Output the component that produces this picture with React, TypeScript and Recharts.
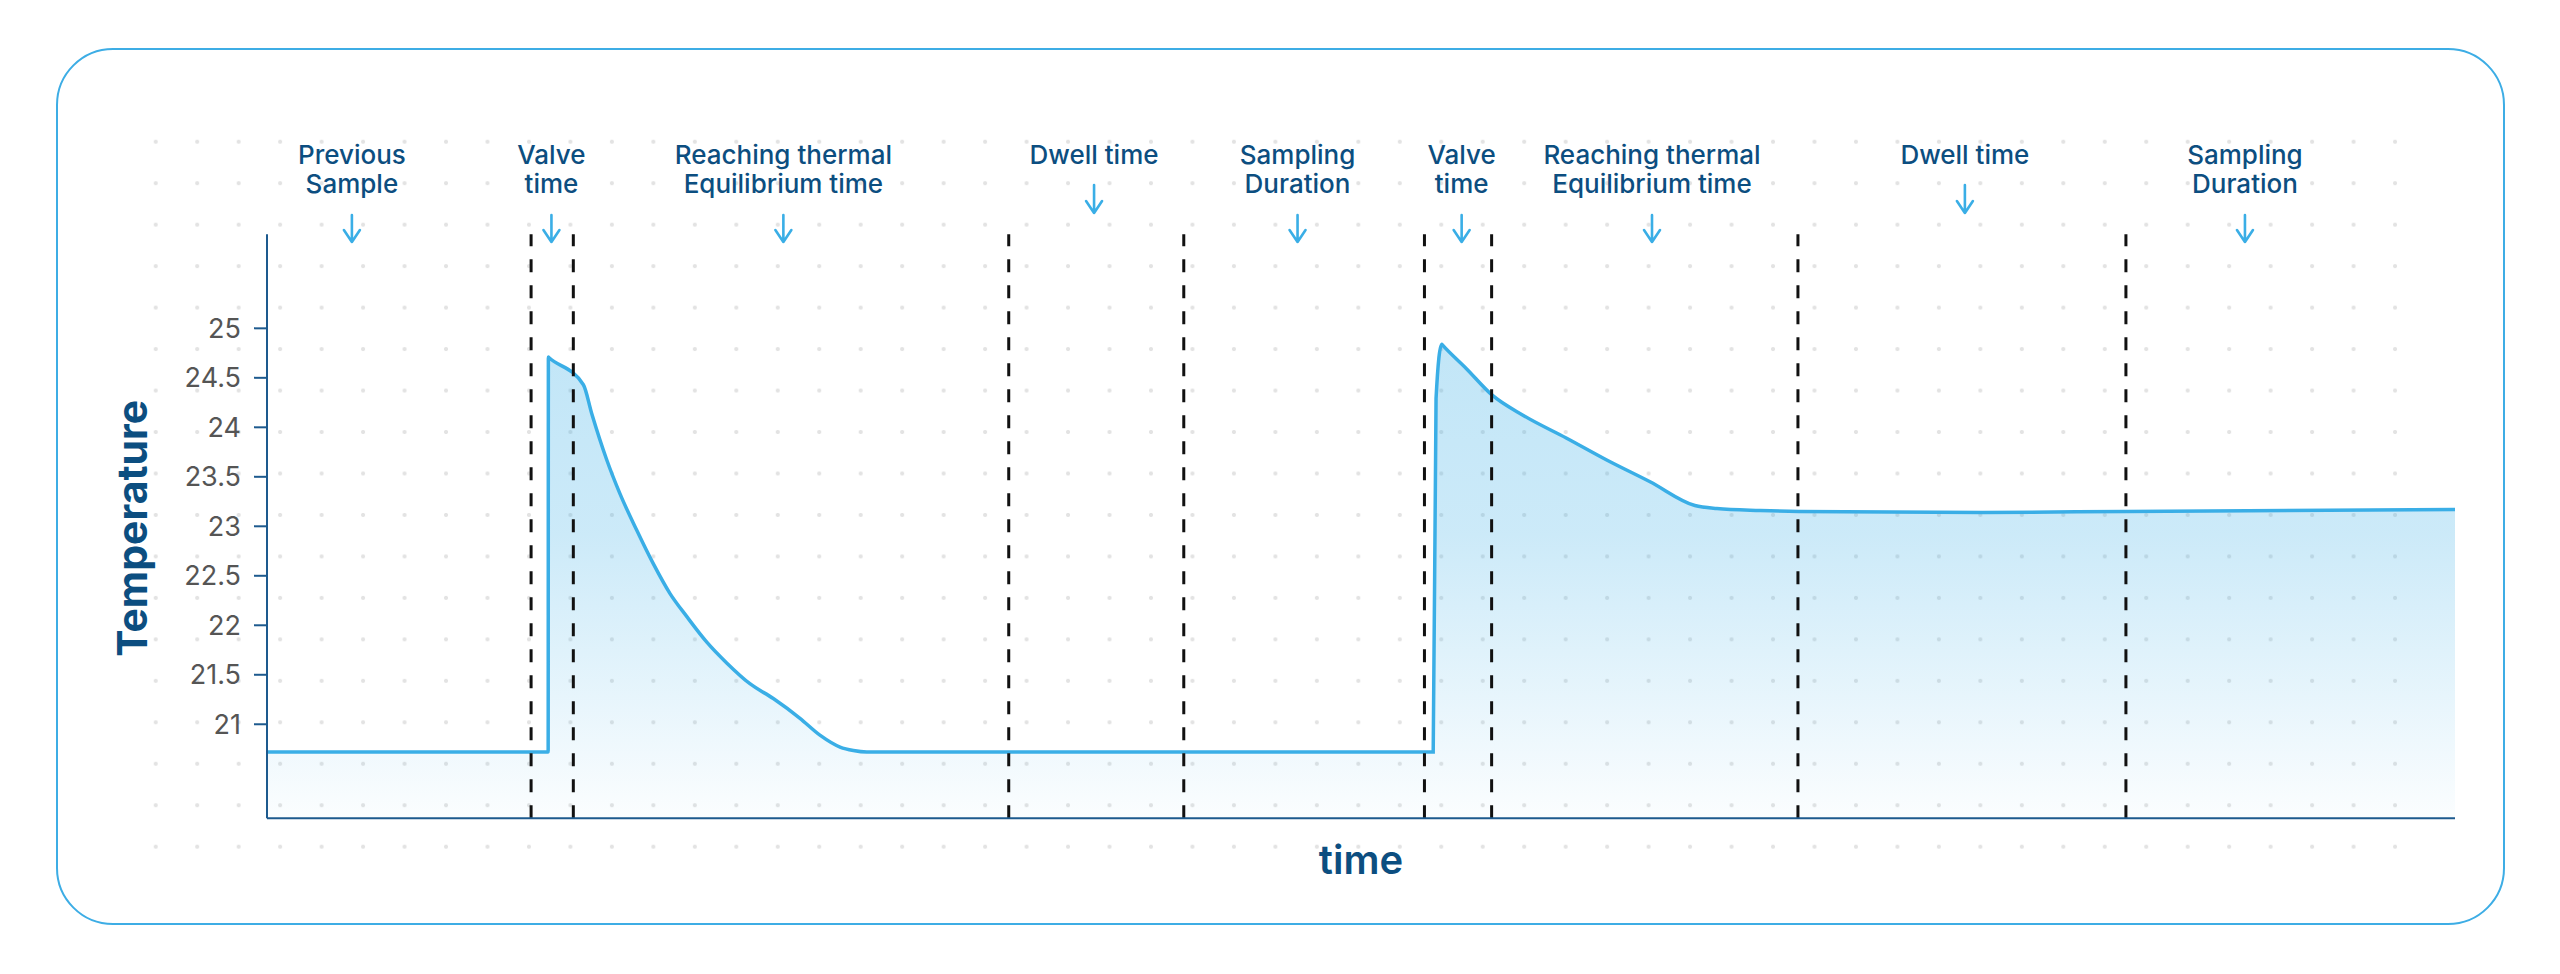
import React from "react";
import { AreaChart, Area, XAxis, YAxis, ReferenceLine } from "recharts";

// ---- data ----
const timeValues = [
  0, 12.85, 12.86, 12.88, 14.46, 14.84, 15.53, 16.13, 16.9, 17.66, 18.42, 19.18, 20.1, 21.01, 22.07,
  23.14, 24.36, 25.27, 26.19, 26.8, 27.41, 40, 53.3, 53.43, 53.69, 53.71, 54.83, 55.97, 57.42, 59.4,
  61.23, 63.21, 65.26, 66.26, 68.24, 70, 78.4, 85, 100,
];
const temperatureValues = [
  20.72, 20.72, 24.71, 24.706, 24.43, 24.14, 23.67, 23.33, 22.96, 22.62, 22.32, 22.09, 21.83, 21.62,
  21.41, 21.26, 21.06, 20.89, 20.77, 20.735, 20.72, 20.72, 20.72, 24.29, 24.84, 24.835, 24.59, 24.33,
  24.12, 23.89, 23.67, 23.45, 23.21, 23.18, 23.16, 23.15, 23.14, 23.15, 23.17,
];
const dividerTimes = [12.07, 14.0, 33.9, 41.9, 52.9, 55.97, 69.97, 84.96];
const phaseTimes = [3.88, 13.0, 23.6, 37.8, 47.1, 54.6, 63.3, 77.6, 90.4];
const phaseNames = [
  ["Previous", "Sample"],
  ["Valve", "time"],
  ["Reaching thermal", "Equilibrium time"],
  ["Dwell time"],
  ["Sampling", "Duration"],
  ["Valve", "time"],
  ["Reaching thermal", "Equilibrium time"],
  ["Dwell time"],
  ["Sampling", "Duration"],
];
const yTicks = [21, 21.5, 22, 22.5, 23, 23.5, 24, 24.5, 25];
const yDomain = [20.05, 25.95];
const xDomain = [0, 100];

const data = timeValues.map((t, i) => ({ t, temp: temperatureValues[i] }));

const FONT = "Inter, 'Noto Sans', sans-serif";
const LABEL_BLUE = "#0c4e80";
const LINE_BLUE = "#3aaee6";
const AXIS_BLUE = "#1d5a8e";

const PhaseLabel = (props: any) => {
  const vb = props.viewBox || {};
  const x = vb.x ?? 0;
  const top = vb.y ?? 0;
  const lines: string[] = props.lines;
  const two = lines.length > 1;
  const a1 = two ? top - 19.3 : top - 49.3;
  const a2 = two ? top + 7.7 : top - 21.3;
  return (
    <g>
      {lines.map((s, i) => (
        <text
          key={i}
          x={x}
          y={top - 70.3 + i * 28.7}
          textAnchor="middle"
          fill={LABEL_BLUE}
          fontFamily={FONT}
          fontSize={26}
          fontWeight={500}
        >
          {s}
        </text>
      ))}
      <path
        d={`M${x},${a1} L${x},${a2} M${x - 8},${a2 - 12} L${x},${a2} L${x + 8},${a2 - 12}`}
        stroke={LINE_BLUE}
        strokeWidth={2.6}
        fill="none"
        strokeLinecap="round"
        strokeLinejoin="round"
      />
    </g>
  );
};

const YTitle = (props: any) => {
  const vb = props.viewBox || {};
  const x = (vb.x ?? 0) - 20;
  const y = (vb.y ?? 0) + (vb.height ?? 0) / 2 + 2;
  return (
    <text
      x={x}
      y={y}
      transform={`rotate(-90, ${x}, ${y})`}
      textAnchor="middle"
      fill={LABEL_BLUE}
      fontFamily={FONT}
      fontSize={41}
      fontWeight={700}
    >
      Temperature
    </text>
  );
};

const XTitle = (props: any) => {
  const vb = props.viewBox || {};
  const x = (vb.x ?? 0) + (vb.width ?? 0) / 2;
  const y = (vb.y ?? 0) + 55.7;
  return (
    <text x={x} y={y} textAnchor="middle" fill={LABEL_BLUE} fontFamily={FONT} fontSize={40} fontWeight={600}>
      time
    </text>
  );
};

export default function App() {
  return (
    <div
      style={{
        position: "absolute",
        left: 0,
        top: 0,
        width: 2560,
        height: 974,
        background: "#ffffff",
        overflow: "hidden",
      }}
    >
      <div
        style={{
          position: "absolute",
          left: 55.5,
          top: 47.7,
          width: 2449,
          height: 877.5,
          boxSizing: "border-box",
          border: "2.5px solid #3dade5",
          borderRadius: 57,
        }}
      />
      <div
        style={{
          position: "absolute",
          left: 155.8 - 20.74,
          top: 142 - 20.74,
          width: 41.48 * 55,
          height: 41.48 * 18,
          backgroundImage: "radial-gradient(circle, #e3e3e3 1.8px, rgba(255,255,255,0) 2.3px)",
          backgroundSize: "41.48px 41.48px",
        }}
      />
      <div style={{ position: "absolute", left: 0, top: 0 }}>
        <AreaChart
          width={2560}
          height={974}
          data={data}
          margin={{ top: 234.3, right: 105, bottom: 154.7, left: 167 }}
        >
          <defs>
            <linearGradient id="tempFill" x1="0" y1="0" x2="0" y2="1">
              <stop offset="0%" stopColor={LINE_BLUE} stopOpacity={0.31} />
              <stop offset="40%" stopColor={LINE_BLUE} stopOpacity={0.26} />
              <stop offset="75%" stopColor={LINE_BLUE} stopOpacity={0.12} />
              <stop offset="100%" stopColor={LINE_BLUE} stopOpacity={0.02} />
            </linearGradient>
          </defs>
          <XAxis
            type="number"
            dataKey="t"
            domain={xDomain}
            ticks={[]}
            tick={false}
            tickLine={false}
            height={1}
            axisLine={{ stroke: AXIS_BLUE, strokeWidth: 2 }}
            label={(p: any) => <XTitle {...p} />}
          />
          <YAxis
            type="number"
            domain={yDomain}
            ticks={yTicks}
            width={100}
            tickSize={13}
            tickMargin={13}
            tick={{ fill: "#555555", fontSize: 27, fontFamily: FONT }}
            tickLine={{ stroke: AXIS_BLUE, strokeWidth: 2 }}
            axisLine={{ stroke: AXIS_BLUE, strokeWidth: 2 }}
            interval={0}
            label={(p: any) => <YTitle {...p} />}
          />
          <Area
            type="monotoneX"
            dataKey="temp"
            stroke={LINE_BLUE}
            strokeWidth={3.5}
            fill="url(#tempFill)"
            fillOpacity={1}
            isAnimationActive={false}
            dot={false}
            activeDot={false}
          />
          {dividerTimes.map((v, i) => (
            <ReferenceLine
              key={`d${i}`}
              x={v}
              stroke="#111111"
              strokeWidth={3}
              strokeDasharray="13 13"
            />
          ))}
          {phaseTimes.map((v, i) => (
            <ReferenceLine
              key={`p${i}`}
              x={v}
              stroke="none"
              label={(p: any) => <PhaseLabel {...p} lines={phaseNames[i]} />}
            />
          ))}
        </AreaChart>
      </div>
    </div>
  );
}
